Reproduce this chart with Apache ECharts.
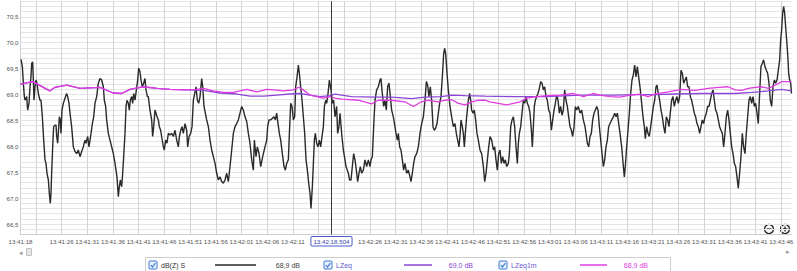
<!DOCTYPE html>
<html><head><meta charset="utf-8">
<script src="https://cdn.jsdelivr.net/npm/echarts@6/dist/echarts.min.js"></script>
<style>html,body{margin:0;padding:0;background:#fff}#c{width:797px;height:271px}</style>
</head><body><div id="c"></div>
<script>
// ---- data ----
const startSeconds = 13 * 3600 + 41 * 60 + 18; // 13:41:18 = axis origin
const xMaxSeconds = 150;
const gridTickSeconds = [3,8,13,18,23,28,33,38,43,48,53,58,63,68,73,78,83,88,93,98,103,108,113,118,123,128,133,138,143,148];
const labelSeconds = [0,8,13,18,23,28,33,38,43,48,53,68,73,78,83,88,93,98,103,108,113,118,123,128,133,138,143,148];
const yMin = 66.3, yMax = 70.8, yStep = 0.1;
const cursorSeconds = 60.504;
const cursorLabel = '13:42:18.504';
const seriesNames = ['dB(Z) S', 'LZeq', 'LZeq1m'];
const legendValues = ['68,9 dB', '69,0 dB', '68,9 dB'];

const levelZS = [[0.10,69.68],[0.36,69.54],[0.55,69.22],[0.75,68.96],[0.88,68.89],[1.20,68.96],[1.39,68.70],[1.65,68.83],[1.85,69.15],[2.04,69.34],[2.17,69.60],[2.37,69.63],[2.50,69.28],[2.63,68.89],[2.82,69.15],[3.02,69.28],[3.21,69.22],[3.47,69.02],[3.79,68.89],[3.99,68.89],[4.25,68.57],[4.51,68.12],[4.77,67.74],[4.96,67.67],[5.16,67.48],[5.42,67.35],[5.61,67.09],[5.80,66.90],[5.93,67.09],[6.06,67.48],[6.26,67.99],[6.45,68.38],[6.71,68.41],[6.91,68.41],[7.04,68.19],[7.23,68.06],[7.36,68.25],[7.56,68.57],[7.75,68.51],[7.88,68.25],[8.07,68.70],[8.33,68.83],[8.66,68.93],[8.98,69.02],[9.18,68.96],[9.44,68.83],[9.63,68.64],[9.95,68.38],[10.28,67.99],[10.60,67.90],[10.93,67.86],[11.25,67.93],[11.58,67.80],[11.90,67.90],[12.22,67.99],[12.55,68.12],[12.74,68.06],[13.07,68.19],[13.33,67.99],[13.72,68.25],[13.98,68.44],[14.24,68.57],[14.49,68.83],[14.82,68.96],[15.14,69.22],[15.47,69.31],[15.79,69.28],[16.12,69.15],[16.31,68.89],[16.57,68.77],[16.76,68.51],[17.09,68.25],[17.41,68.12],[17.74,67.99],[18.06,67.86],[18.39,67.67],[18.58,67.54],[18.77,67.41],[19.03,67.03],[19.23,67.22],[19.42,67.35],[19.68,67.22],[19.88,67.48],[20.07,67.80],[20.33,68.25],[20.53,68.77],[20.72,68.89],[20.98,68.83],[21.17,68.70],[21.37,68.89],[21.63,68.96],[21.82,68.83],[22.02,69.02],[22.28,68.89],[22.54,69.09],[22.80,69.28],[22.99,69.51],[23.25,69.44],[23.44,69.28],[23.70,69.15],[23.96,69.22],[24.22,69.31],[24.42,69.09],[24.68,68.96],[24.87,68.96],[25.19,68.70],[25.52,68.51],[25.71,68.19],[25.91,68.38],[26.17,68.70],[26.36,68.64],[26.56,68.57],[26.82,68.51],[27.01,68.38],[27.27,68.31],[27.46,68.19],[27.79,67.99],[27.98,67.93],[28.24,68.12],[28.50,68.06],[28.76,68.25],[29.09,68.22],
[29.41,68.25],[29.74,68.19],[30.06,68.31],[30.39,68.12],[30.71,67.99],[30.91,68.19],[31.17,68.31],[31.42,68.38],[31.68,68.25],[32.01,68.44],[32.33,68.31],[32.53,67.99],[32.79,68.19],[33.11,68.25],[33.37,68.38],[33.63,68.89],[33.89,69.02],[34.15,69.15],[34.41,68.89],[34.67,68.83],[34.93,68.96],[35.25,69.31],[35.45,69.15],[35.70,68.77],[35.96,68.64],[36.22,68.51],[36.55,68.38],[36.87,68.12],[37.20,67.93],[37.52,67.80],[37.85,67.67],[38.17,67.48],[38.49,67.35],[38.82,67.41],[39.14,67.32],[39.47,67.29],[39.79,67.35],[40.11,67.48],[40.44,67.32],[40.76,67.61],[41.09,67.93],[41.41,68.25],[41.74,68.38],[42.06,68.44],[42.38,68.51],[42.71,68.64],[43.03,68.77],[43.36,68.70],[43.68,68.57],[44.01,68.48],[44.33,68.25],[44.65,68.06],[44.98,67.74],[45.30,67.54],[45.50,68.12],[45.82,67.80],[46.08,67.99],[46.41,67.86],[46.73,67.61],[46.99,67.74],[47.25,67.86],[47.57,67.99],[47.90,68.12],[48.09,68.38],[48.35,68.51],[48.67,68.51],[49.00,68.54],[49.32,68.57],[49.58,68.51],[49.84,68.64],[50.10,68.44],[50.36,68.25],[50.62,68.12],[50.94,67.86],[51.27,67.61],[51.53,67.54],[51.79,67.67],[52.11,67.74],[52.31,68.25],[52.57,68.83],[52.83,68.77],[53.08,68.51],[53.34,68.57],[53.54,69.15],[53.80,69.34],[54.06,69.57],[54.25,69.41],[54.51,69.15],[54.77,68.89],[55.03,68.57],[55.29,68.25],[55.55,67.74],[55.81,67.54],[56.07,67.29],[56.33,67.09],[56.52,66.80],[56.78,67.22],[56.98,67.67],[57.17,68.12],[57.36,68.25],[57.62,68.06],[57.88,67.99],[58.14,68.12],[58.40,67.99],[58.66,68.19],[58.92,68.38],[59.12,68.77],[59.38,68.89],[59.57,68.83],[59.83,69.02],[60.09,69.28],
[60.41,69.09],[60.67,68.83],[60.93,68.89],[61.19,68.57],[61.51,68.77],[61.70,68.25],[61.96,68.38],[62.16,68.64],[62.48,68.25],[62.81,67.93],[63.13,67.74],[63.33,67.61],[63.58,67.54],[63.78,67.48],[64.04,67.35],[64.30,67.35],[64.56,67.61],[64.82,67.86],[65.08,67.74],[65.34,67.54],[65.60,67.32],[65.85,67.48],[66.11,67.61],[66.37,67.48],[66.70,67.54],[67.02,67.74],[67.35,67.61],[67.67,67.74],[68.00,67.61],[68.19,67.74],[68.45,67.80],[68.71,68.38],[68.97,68.89],[69.29,69.09],[69.62,69.15],[69.94,69.28],[70.13,69.31],[70.39,69.02],[70.65,68.77],[70.91,68.89],[71.17,68.70],[71.43,69.15],[71.69,69.22],[71.95,68.96],[72.21,68.70],[72.53,68.57],[72.86,68.38],[73.05,68.25],[73.31,68.12],[73.51,68.25],[73.77,67.99],[74.03,67.93],[74.29,67.74],[74.54,67.54],[74.80,67.67],[75.13,67.48],[75.45,67.54],[75.78,67.41],[75.97,67.32],[76.23,67.48],[76.49,67.67],[76.75,67.80],[77.07,67.86],[77.40,67.99],[77.72,68.25],[78.05,68.44],[78.37,68.57],[78.70,68.89],[78.96,69.25],[79.21,69.18],[79.47,68.96],[79.73,69.15],[79.99,68.89],[80.25,68.38],[80.51,68.31],[80.77,68.35],[81.03,68.44],[81.29,68.64],[81.55,68.83],[81.81,68.96],[82.07,69.34],[82.33,69.79],[82.52,69.89],[82.72,69.79],[82.98,69.41],[83.23,69.09],[83.56,68.77],[83.88,68.57],[84.21,68.38],[84.53,68.44],[84.79,68.25],[85.05,68.12],[85.31,67.99],[85.50,68.19],[85.70,68.51],[85.96,68.38],[86.15,68.25],[86.35,67.99],[86.54,68.25],[86.80,68.57],[87.13,68.89],[87.39,69.02],[87.58,68.89],[87.77,68.70],[88.03,68.64],[88.29,68.70],[88.55,68.51],[88.81,68.25],[89.07,68.12],[89.40,67.93],
[89.72,67.86],[90.05,67.61],[90.31,67.32],[90.57,67.48],[90.83,67.74],[91.09,67.99],[91.35,68.19],[91.67,68.12],[91.99,67.93],[92.25,67.99],[92.51,67.74],[92.77,67.54],[93.03,67.86],[93.29,67.93],[93.55,67.67],[93.81,67.80],[94.07,67.67],[94.33,67.74],[94.59,67.61],[94.91,67.67],[95.11,67.86],[95.37,68.38],[95.63,68.51],[95.89,68.57],[96.14,68.38],[96.40,67.99],[96.66,67.67],[96.86,68.06],[97.05,68.25],[97.31,68.38],[97.57,68.64],[97.83,68.89],[98.09,68.83],[98.35,68.96],[98.61,68.83],[98.87,68.77],[99.13,68.64],[99.39,68.31],[99.58,67.99],[99.78,68.38],[99.97,68.77],[100.17,68.89],[100.42,68.96],[100.68,69.02],[100.94,69.12],[101.20,69.25],[101.46,69.22],[101.72,69.09],[101.98,69.15],[102.24,68.96],[102.50,68.89],[102.76,68.70],[103.02,68.64],[103.28,68.31],[103.54,68.51],[103.80,68.70],[104.06,68.83],[104.32,68.99],[104.58,68.89],[104.83,68.64],[105.09,68.77],[105.35,68.60],[105.61,68.70],[105.87,69.09],[106.13,68.89],[106.39,68.77],[106.65,68.57],[106.91,68.38],[107.17,68.31],[107.43,68.19],[107.69,68.38],[107.95,68.77],[108.21,68.70],[108.53,68.77],[108.86,68.64],[109.18,68.70],[109.50,68.51],[109.83,68.38],[110.02,68.25],[110.28,68.06],[110.54,67.99],[110.80,68.19],[111.06,68.25],[111.32,68.51],[111.58,68.64],[111.84,68.70],[112.10,68.77],[112.36,68.70],[112.62,68.38],[112.88,68.12],[113.14,67.86],[113.39,67.61],[113.65,67.74],[113.91,67.99],[114.17,68.12],[114.43,68.38],[114.69,68.44],[115.02,68.51],[115.34,68.57],[115.60,68.64],[115.86,68.57],[116.12,68.64],[116.38,68.44],[116.64,68.25],[116.96,67.99],[117.29,67.61],[117.48,67.41],[117.67,67.61],[117.93,67.99],[118.19,68.31],[118.45,68.64],[118.71,69.02],[118.97,69.28],[119.23,69.38],[119.49,69.57],[119.75,69.34],[120.01,69.54],[120.27,69.34],
[120.59,69.09],[120.85,68.83],[121.11,68.57],[121.37,68.38],[121.56,68.15],[121.82,68.38],[122.08,68.25],[122.34,68.19],[122.60,68.38],[122.86,68.57],[123.12,68.77],[123.38,68.89],[123.64,69.15],[123.83,69.18],[124.09,69.02],[124.35,68.89],[124.61,68.70],[124.87,68.57],[125.13,68.38],[125.39,68.25],[125.65,68.57],[125.91,68.51],[126.16,68.38],[126.42,68.64],[126.68,68.89],[126.94,68.96],[127.20,68.77],[127.46,68.89],[127.72,68.96],[127.98,68.83],[128.24,68.96],[128.50,69.47],[128.76,69.41],[129.02,69.22],[129.28,69.28],[129.54,69.34],[129.80,69.15],[130.06,69.15],[130.32,68.96],[130.57,68.89],[130.83,68.77],[131.09,68.64],[131.35,68.57],[131.61,68.44],[131.87,68.38],[132.13,68.25],[132.39,68.38],[132.65,68.51],[132.91,68.44],[133.17,68.57],[133.43,68.64],[133.69,68.77],[133.95,68.77],[134.21,68.89],[134.47,69.02],[134.73,69.09],[134.98,68.89],[135.24,68.70],[135.50,68.64],[135.76,68.51],[136.02,68.38],[136.28,68.31],[136.54,68.25],[136.80,67.99],[137.06,68.25],[137.32,68.57],[137.58,68.70],[137.84,68.51],[138.10,68.25],[138.36,67.99],[138.62,67.86],[138.88,67.67],[139.13,67.61],[139.39,67.41],[139.65,67.19],[139.91,67.48],[140.17,67.80],[140.43,68.25],[140.69,67.99],[140.95,67.86],[141.21,68.25],[141.47,68.57],[141.73,68.89],[141.99,68.96],[142.25,68.83],[142.51,68.96],[142.77,68.77],[143.03,68.83],[143.29,68.64],[143.54,68.44],[143.80,69.02],[144.06,69.54],[144.32,69.60],[144.58,69.67],[144.84,69.54],[145.10,69.47],[145.36,69.41],[145.62,69.22],[145.88,68.89],[146.14,68.77],[146.40,69.15],[146.66,69.28],[146.92,69.22],[147.18,69.28],[147.44,69.47],[147.70,69.67],[147.89,70.05],[148.08,70.25],[148.28,70.57],[148.47,70.70],[148.67,70.57],[148.86,70.31],[149.06,70.05],[149.25,69.79],[149.45,69.41],[149.64,69.28],[149.84,69.22],[150.00,69.02]];

const levelLZeq = [[0,69.20],[2.4,69.25],[5.7,69.07],[6.7,69.14],[9.0,69.18],[11.6,69.12],[15.5,69.14],[18.0,69.03],[19.7,69.02],[21.3,69.10],[23.8,69.15],[26.6,69.12],[29.1,69.10],[35.6,69.08],[38.8,69.03],[42.1,69.01],[44.7,68.97],[47.3,68.97],[49.8,68.99],[52.4,69.01],[54.4,69.02],[56.3,68.99],[58.3,68.96],[60.2,68.98],[61.2,69.01],[64.4,68.96],[69.0,68.95],[72.2,68.95],[76.1,68.92],[78.7,68.95],[81.9,68.96],[83.9,68.99],[86.5,68.98],[90.4,68.97],[95.9,68.96],[102.4,68.96],[108.9,68.99],[115.3,68.99],[120.5,69.00],[123.4,69.00],[127.3,69.01],[132.5,69.02],[139.0,69.02],[142.3,69.04],[145.5,69.07],[148.1,69.10],[150.0,69.07]];

const levelLZeq1m = [[0,69.20],[2.4,69.25],[5.7,69.07],[6.7,69.14],[9.0,69.18],[11.6,69.12],[15.5,69.14],[18.0,69.03],[19.7,69.02],[21.3,69.10],[23.8,69.15],[26.6,69.12],[29.1,69.10],[31.7,69.09],[34.3,69.10],[35.6,69.12],[37.5,69.07],[39.5,69.04],[41.4,69.04],[42.7,69.07],[44.0,69.10],[46.0,69.05],[47.9,69.10],[49.2,69.09],[51.1,69.07],[53.1,69.09],[54.1,69.14],[55.0,69.09],[56.3,68.99],[57.6,68.96],[58.9,68.93],[60.2,68.96],[61.2,68.93],[62.5,68.91],[65.7,68.89],[68.3,68.82],[69.6,68.89],[72.2,68.89],[74.8,68.86],[76.4,68.77],[78.0,68.86],[79.3,68.89],[81.3,68.86],[82.6,68.89],[83.9,68.90],[85.2,68.83],[86.5,68.80],[87.8,68.86],[89.1,68.89],[90.4,68.89],[91.3,68.86],[94.6,68.80],[95.9,68.83],[97.2,68.86],[98.5,68.93],[100.4,68.96],[102.4,68.98],[105.0,68.99],[107.6,69.02],[109.5,68.96],[111.4,69.02],[112.7,68.99],[114.7,68.96],[116.6,68.95],[118.6,68.99],[120.5,69.01],[122.1,68.96],[123.4,69.01],[126.0,69.05],[128.6,69.10],[129.9,69.09],[131.2,69.08],[133.8,69.12],[135.8,69.14],[137.7,69.15],[139.0,69.09],[140.3,69.08],[141.6,69.12],[142.9,69.14],[144.2,69.15],[145.5,69.12],[146.8,69.18],[148.1,69.25],[150.0,69.25]];

// ---- styles ----
const colZS = '#2a2a2a', colLZeq = '#8a46d6', colLZeq1m = '#e03ce0';
const FONT = '"Liberation Sans", Arial, sans-serif';

function clock(v) {
  const t = Math.round(startSeconds + v);
  const h = Math.floor(t / 3600), m = Math.floor((t % 3600) / 60), s = t % 60;
  const p = n => (n < 10 ? '0' : '') + n;
  return h + ':' + p(m) + ':' + p(s);
}

const chart = echarts.init(document.getElementById('c'), null, {renderer: 'svg'});

function checkbox(x, y) {
  return [
    {type: 'rect', shape: {x: x, y: y, width: 8, height: 8, r: 1}, style: {fill: '#e9f1fc', stroke: '#3d7ad6', lineWidth: 1}},
    {type: 'polyline', shape: {points: [[x + 1.8, y + 4.2], [x + 3.5, y + 6], [x + 6.4, y + 2]]}, style: {stroke: '#3d7ad6', lineWidth: 1.2, fill: null}}
  ];
}
function txt(x, y, s, color, size, align) {
  return {type: 'text', x: x, y: y, style: {text: s, fill: color, fontSize: size || 7, fontFamily: FONT, align: align || 'left', verticalAlign: 'middle'}};
}
function seg(x1, x2, y, color) {
  return {type: 'line', shape: {x1: x1, y1: y, x2: x2, y2: y}, style: {stroke: color, lineWidth: 1.5}};
}
const ly = 265;
const graphics = [
  {type: 'rect', shape: {x: 145.5, y: 257.5, width: 525, height: 16}, style: {fill: '#fff', stroke: '#cfcfcf', lineWidth: 1}},
  ...checkbox(149, 261), txt(161, ly, seriesNames[0], '#333'), seg(215, 256, ly, colZS), txt(300, ly, legendValues[0], '#444', 7, 'right'),
  ...checkbox(324, 261), txt(336, ly, seriesNames[1], '#5a5ccc'), seg(404, 432, ly, colLZeq), txt(473, ly, legendValues[1], colLZeq, 7, 'right'),
  ...checkbox(499, 261), txt(511, ly, seriesNames[2], '#6a58d0'), seg(580, 607, ly, colLZeq1m), txt(648, ly, legendValues[2], colLZeq1m, 7, 'right'),
  // scroll bar arrows
  txt(19, 252, '\u25C2', '#999', 7),
  {type: 'rect', shape: {x: 26.5, y: 248.5, width: 5, height: 7}, style: {fill: '#e6e6e6', stroke: '#c4c4c4', lineWidth: 1}},
  txt(786, 251, '\u25B8', '#999', 7),
  // zoom buttons
  {type: 'circle', shape: {cx: 769, cy: 229, r: 4.5}, style: {fill: '#fff', stroke: '#222', lineWidth: 1.3}},
  {type: 'line', shape: {x1: 766.6, y1: 229, x2: 771.4, y2: 229}, style: {stroke: '#222', lineWidth: 1.3}},
  {type: 'circle', shape: {cx: 785, cy: 229, r: 4.5}, style: {fill: '#fff', stroke: '#222', lineWidth: 1.3}},
  {type: 'line', shape: {x1: 782.6, y1: 229, x2: 787.4, y2: 229}, style: {stroke: '#222', lineWidth: 1.3}},
  {type: 'line', shape: {x1: 785, y1: 226.6, x2: 785, y2: 231.4}, style: {stroke: '#222', lineWidth: 1.3}}
];

chart.setOption({
  animation: false,
  backgroundColor: '#fff',
  grid: {left: 20.5, right: 5.5, top: 1.3, bottom: 36.6, containLabel: false},
  xAxis: {
    type: 'value', min: 0, max: xMaxSeconds,
    axisLine: {show: true, lineStyle: {color: '#cfcfcf'}},
    axisTick: {show: false, customValues: gridTickSeconds},
    splitLine: {show: true, lineStyle: {color: '#d4d4d4', width: 1}},
    axisLabel: {customValues: labelSeconds, formatter: clock, fontSize: 6.2, color: '#555', fontFamily: FONT, margin: 4}
  },
  yAxis: {
    type: 'value', min: yMin, max: yMax, interval: yStep,
    axisLine: {show: true, lineStyle: {color: '#cfcfcf'}},
    axisTick: {show: false},
    splitLine: {show: true, lineStyle: {color: '#e6e6e6', width: 1}},
    axisLabel: {
      fontSize: 6.2, color: '#555', fontFamily: FONT, margin: 2,
      formatter: v => { const r = Math.round(v * 10); return r % 5 === 0 ? (r / 10).toFixed(1).replace('.', ',') : ''; }
    }
  },
  series: [
    {name: seriesNames[0], type: 'line', data: levelZS, showSymbol: false, symbol: 'none',
     lineStyle: {color: colZS, width: 1.4}, z: 2,
     markLine: {silent: true, symbol: ['none', 'none'], animation: false,
       lineStyle: {color: '#3a3a3a', width: 1, type: 'solid'},
       label: {show: true, position: 'start', distance: 2.5, formatter: cursorLabel,
         fontSize: 6.2, fontFamily: FONT, color: '#3344aa', backgroundColor: '#fff',
         borderColor: '#4a5fc8', borderWidth: 1, borderRadius: 1, padding: [1.5, 2, 1, 2]},
       data: [{xAxis: cursorSeconds}]}},
    {name: seriesNames[1], type: 'line', data: levelLZeq, showSymbol: false, symbol: 'none',
     lineStyle: {color: colLZeq, width: 1.3}, z: 3},
    {name: seriesNames[2], type: 'line', data: levelLZeq1m, showSymbol: false, symbol: 'none',
     lineStyle: {color: colLZeq1m, width: 1.3}, z: 4}
  ],
  graphic: graphics
});
</script>
</body></html>
